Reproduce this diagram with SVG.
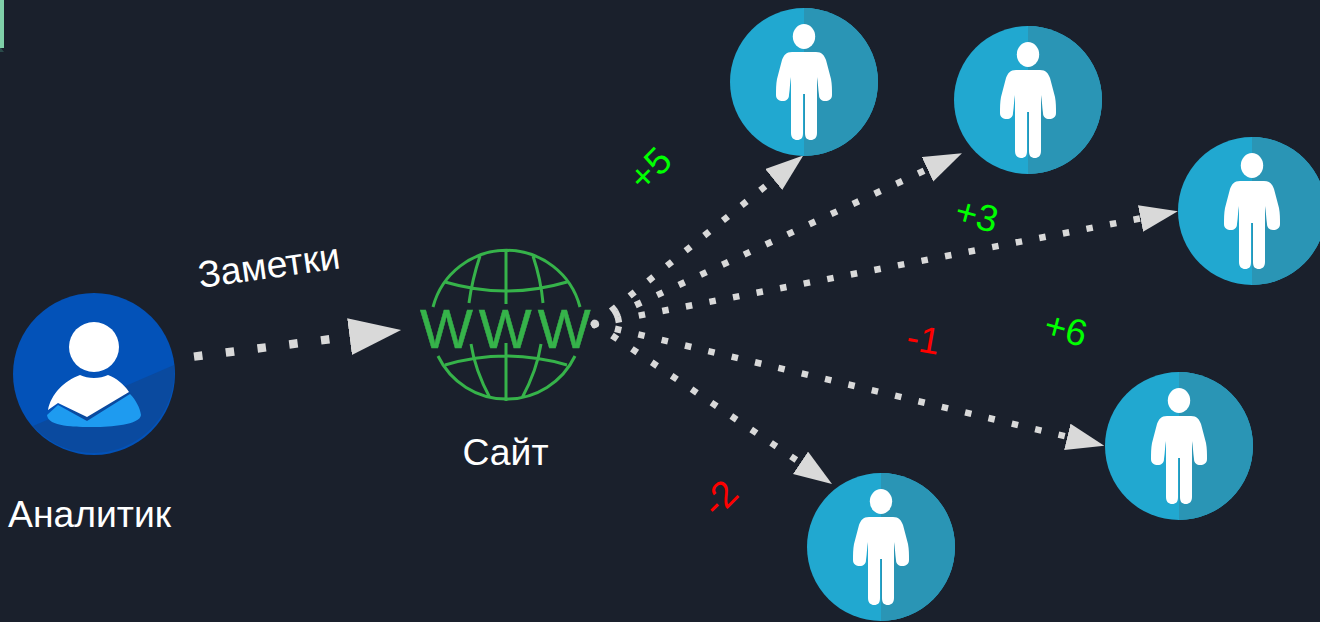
<svg xmlns="http://www.w3.org/2000/svg" width="1320" height="622" viewBox="0 0 1320 622">
<style>
text{font-family:"Liberation Sans",Arial,sans-serif}
.w{fill:#fff;font-size:37.300px}
.g{fill:#00ff00;font-size:37.300px}
.r{fill:#ff0000;font-size:37.300px}
.dot{fill:none;stroke:#d9d9d9;stroke-width:6.500;stroke-dasharray:6.500 17.500}
.big{stroke-width:8.500;stroke-dasharray:8.500 23.500}
.globe{fill:none;stroke:#36b34a;stroke-width:3}
</style>
<defs>
<marker id="ah" markerUnits="userSpaceOnUse" markerWidth="40" markerHeight="28" refX="0" refY="13.500" orient="auto"><path d="M0 0L38 13.500L0 27Z" fill="#d9d9d9"/></marker>
<marker id="ahb" markerUnits="userSpaceOnUse" markerWidth="54" markerHeight="38" refX="0" refY="18.500" orient="auto"><path d="M0 0L52 18.500L0 37Z" fill="#d9d9d9"/></marker>
<g id="person">
<circle r="74" fill="#21a8d0"/>
<path d="M0-74A74 74 0 0 1 0 74Z" fill="#2a95b5"/>
<ellipse cy="-45.500" rx="11.200" ry="12.500" fill="#fff"/>
<path d="M-12-30H12C18-30 20-27 22-22L27-3C28 2 28 8 28 13C28 17 25 19 21 19C18 19 15 17 15 13C14 6 14 0 13-5V51C13 56 10 58 7 58C3 58 1 56 1 51V12H-1V51C-1 56-3 58-7 58C-10 58-13 56-13 51V-5C-14 0-14 6-15 13C-15 17-18 19-21 19C-25 19-28 17-28 13C-28 8-28 2-27-3L-22-22C-20-27-18-30-12-30Z" fill="#fff"/>
</g>
</defs>
<rect width="1320" height="622" fill="#1a202c"/>
<rect width="4" height="48" fill="#7fcfa8"/>
<path d="M0 48H1L4 52H0Z" fill="#2a4a4a"/>
<g id="connectors">
<path class="dot big" marker-end="url(#ahb)" d="M194 356.600L349.500 336.700"/>
<path class="dot" marker-end="url(#ah)" d="M592.300 326.200L773.700 179.500"/>
<path class="dot" marker-end="url(#ah)" d="M591.800 325.500L927.500 169.200"/>
<path class="dot" marker-end="url(#ah)" d="M591.600 324.700L1140.500 218.400"/>
<path class="dot" marker-end="url(#ah)" d="M591.600 323.200L1067.300 436.800"/>
<path class="dot" marker-end="url(#ah)" d="M592.100 322L800.500 462.800"/>
</g>
<g id="analyst">
<circle cx="94" cy="374" r="81" fill="#0352b8"/>
<path d="M33 426L174 365A81 81 0 0 1 33 426Z" fill="#0a4a9f"/>
<circle cx="94" cy="347" r="25" fill="#fff"/>
<path d="M80 375C88 379 100 379 108 375C116 378 124 384 129 392L87 417L58 403L48 410C51 394 64 381 80 375Z" fill="#fff"/>
<path d="M47 415L58 405L87 421L130 394C136 400 140 408 141 415C140 425 110 427 94 427C75 427 48 427 47 415Z" fill="#1e9bf0"/>
<text class="w" x="8" y="527">Аналитик</text>
</g>
<g id="site">
<path class="globe" d="M433 307A76 76 0 0 1 580 307M438 356A76 76 0 0 0 575 356M445 282Q506 300 567 282M445 365Q506 347 567 365M506 249V304M506 343V401M480 256Q472 280 469 303M533 256Q541 280 543 303M471 344Q475 370 490 398M541 344Q537 370 522 398"/>
<text x="420" y="348" font-size="56" fill="#36b34a" stroke="#36b34a" stroke-width="0.500" letter-spacing="6">WWW</text>
<text class="w" x="462.500" y="465">Сайт</text>
</g>
<g id="notes"><text class="w" transform="translate(200 288) rotate(-8)">Заметки</text></g>
<use id="user1" href="#person" x="804" y="82"/>
<use id="user2" href="#person" x="1028" y="100"/>
<use id="user3" href="#person" x="1252" y="211"/>
<use id="user4" href="#person" x="1179" y="446"/>
<use id="user5" href="#person" x="881" y="547"/>
<g id="scores">
<text class="g" transform="translate(644 193) rotate(-45)">+5</text>
<text class="g" transform="translate(953 222) rotate(15)">+3</text>
<text class="g" transform="translate(1042 336) rotate(15)">+6</text>
<text class="r" transform="translate(905 349) rotate(10)">-1</text>
<text class="r" transform="translate(717 519) rotate(-45)">-2</text>
</g>
</svg>
